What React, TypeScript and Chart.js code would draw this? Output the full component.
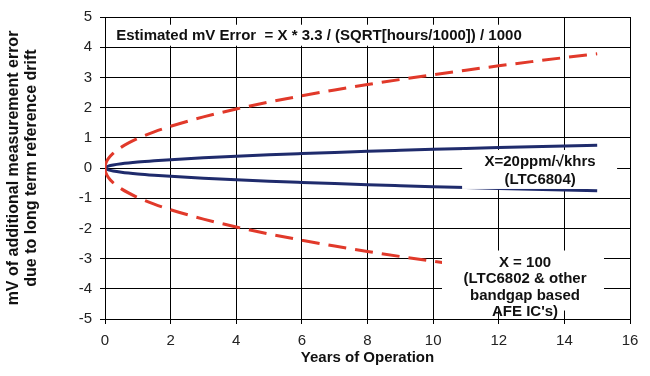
import React, { useEffect, useRef } from "react";
import { Chart, registerables } from "chart.js";

Chart.register(...registerables);

// ---- data ----
const years = [0, 0.01, 0.03, 0.1, 0.25, 0.5, 1, 1.5, 2, 3, 4, 5, 6, 7, 8, 9, 10, 11, 12, 13, 14, 15];
const x100Upper = [0, 0.098, 0.169, 0.309, 0.488, 0.691, 0.977, 1.196, 1.381, 1.692, 1.953, 2.184, 2.392, 2.584, 2.763, 2.93, 3.089, 3.239, 3.383, 3.522, 3.655, 3.783];
const yearsLower = [0, 0.01, 0.03, 0.1, 0.25, 0.5, 1, 1.5, 2, 3, 4, 5, 6, 7, 8, 9, 10, 10.5];
const x100Lower = [0, -0.098, -0.169, -0.309, -0.488, -0.691, -0.977, -1.196, -1.381, -1.692, -1.953, -2.184, -2.392, -2.584, -2.763, -2.93, -3.089, -3.165];
const x20Upper = [0, 0.02, 0.034, 0.062, 0.098, 0.138, 0.195, 0.239, 0.276, 0.338, 0.391, 0.437, 0.478, 0.517, 0.553, 0.586, 0.618, 0.648, 0.677, 0.704, 0.731, 0.757];
const x20Lower = [0, -0.02, -0.034, -0.062, -0.098, -0.138, -0.195, -0.239, -0.276, -0.338, -0.391, -0.437, -0.478, -0.517, -0.553, -0.586, -0.618, -0.648, -0.677, -0.704, -0.731, -0.757];

const xTicks = [0, 2, 4, 6, 8, 10, 12, 14, 16];
const yTicks = [-5, -4, -3, -2, -1, 0, 1, 2, 3, 4, 5];

const formulaText = "Estimated mV Error  = X * 3.3 / (SQRT[hours/1000]) / 1000";
const label20 = ["X=20ppm/\u221Akhrs", "(LTC6804)"];
const label100 = ["X = 100", "(LTC6802 & other", "bandgap based", "AFE IC's)"];

const BLUE = "#1f2b6c";
const RED = "#e1392a";

function pts(xs: number[], ys: number[]) {
  return xs.map((x, i) => ({ x, y: ys[i] }));
}

const boxesPlugin = {
  id: "boxes",
  afterDatasetsDraw(chart: any) {
    const { ctx, scales } = chart;
    const xs = scales.x;
    const ys = scales.y;
    const drawBox = (
      lines: string[],
      cx: number,
      cy: number,
      box: [number, number, number, number],
      font: string,
      lh: number
    ) => {
      const px = xs.getPixelForValue(cx);
      const py = ys.getPixelForValue(cy);
      ctx.save();
      ctx.fillStyle = "#ffffff";
      ctx.fillRect(px + box[0], py + box[1], box[2], box[3]);
      ctx.fillStyle = "#111111";
      ctx.font = font;
      ctx.textAlign = "center";
      ctx.textBaseline = "middle";
      lines.forEach((t, i) => {
        ctx.fillText(t, px, py + i * lh);
      });
      ctx.restore();
    };
    drawBox([formulaText], 6.52, 4.38, [-211, -11, 422, 21], "bold 15px 'Liberation Sans', Arial, sans-serif", 17);
    drawBox(label20, 13.26, 0.2, [-78, -12, 155, 39], "bold 15px 'Liberation Sans', Arial, sans-serif", 17.5);
    drawBox(label100, 12.8, -3.13, [-83, -12, 162, 60], "bold 15px 'Liberation Sans', Arial, sans-serif", 16.5);
  },
};

export default function App() {
  const ref = useRef<HTMLCanvasElement>(null);
  useEffect(() => {
    if (!ref.current) return;
    const font = "'Liberation Sans', Arial, sans-serif";
    const chart = new Chart(ref.current, {
      type: "line",
      data: {
        datasets: [
          {
            data: pts(years, x100Upper),
            borderColor: RED,
            borderWidth: 3,
            borderDash: [18, 9],
            pointRadius: 0,
            cubicInterpolationMode: "monotone",
            fill: false,
          },
          {
            data: pts(yearsLower, x100Lower),
            borderColor: RED,
            borderWidth: 3,
            borderDash: [18, 9],
            pointRadius: 0,
            cubicInterpolationMode: "monotone",
            fill: false,
          },
          {
            data: pts(years, x20Upper),
            borderColor: BLUE,
            borderWidth: 3,
            pointRadius: 0,
            cubicInterpolationMode: "monotone",
            fill: false,
          },
          {
            data: pts(years, x20Lower),
            borderColor: BLUE,
            borderWidth: 3,
            pointRadius: 0,
            cubicInterpolationMode: "monotone",
            fill: false,
          },
        ],
      } as any,
      options: {
        animation: false,
        responsive: false,
        maintainAspectRatio: false,
        layout: { padding: { top: 13, right: 20, left: 0, bottom: 0 } },
        plugins: {
          legend: { display: false },
          tooltip: { enabled: false },
          title: { display: false },
        },
        scales: {
          x: {
            type: "linear",
            min: 0,
            max: 16,
            afterFit(scale: any) {
              scale.height = 57;
            },
            afterBuildTicks(scale: any) {
              scale.ticks = xTicks.map((v) => ({ value: v }));
            },
            grid: { color: "#000", lineWidth: 1, tickLength: 5, drawTicks: true },
            border: { color: "#000", width: 1 },
            ticks: {
              color: "#222",
              font: { family: font, size: 15 },
              padding: 8,
              maxRotation: 0,
            },
            title: {
              display: true,
              text: "Years of Operation",
              color: "#111",
              font: { family: font, size: 15, weight: "bold" },
              padding: { top: 0, bottom: 9 },
            },
          },
          y: {
            type: "linear",
            min: -5,
            max: 5,
            afterFit(scale: any) {
              scale.width = 105;
            },
            afterBuildTicks(scale: any) {
              scale.ticks = yTicks.map((v) => ({ value: v }));
            },
            grid: { color: "#000", lineWidth: 1, tickLength: 5, drawTicks: true },
            border: { color: "#000", width: 1 },
            ticks: {
              color: "#222",
              font: { family: font, size: 15 },
              padding: 8,
            },
            title: {
              display: true,
              text: ["mV of additional measurement error", "due to long term reference drift"],
              color: "#111",
              font: { family: font, size: 16, weight: "bold", lineHeight: 1.09 },
              padding: { top: 5, bottom: 0 },
            },
          },
        },
      } as any,
      plugins: [boxesPlugin],
    });
    return () => chart.destroy();
  }, []);
  return (
    <div style={{ position: "fixed", left: 0, top: 0, width: 650, height: 376, background: "#fff" }}>
      <canvas ref={ref} width={650} height={376} style={{ width: 650, height: 376 }} />
    </div>
  );
}
